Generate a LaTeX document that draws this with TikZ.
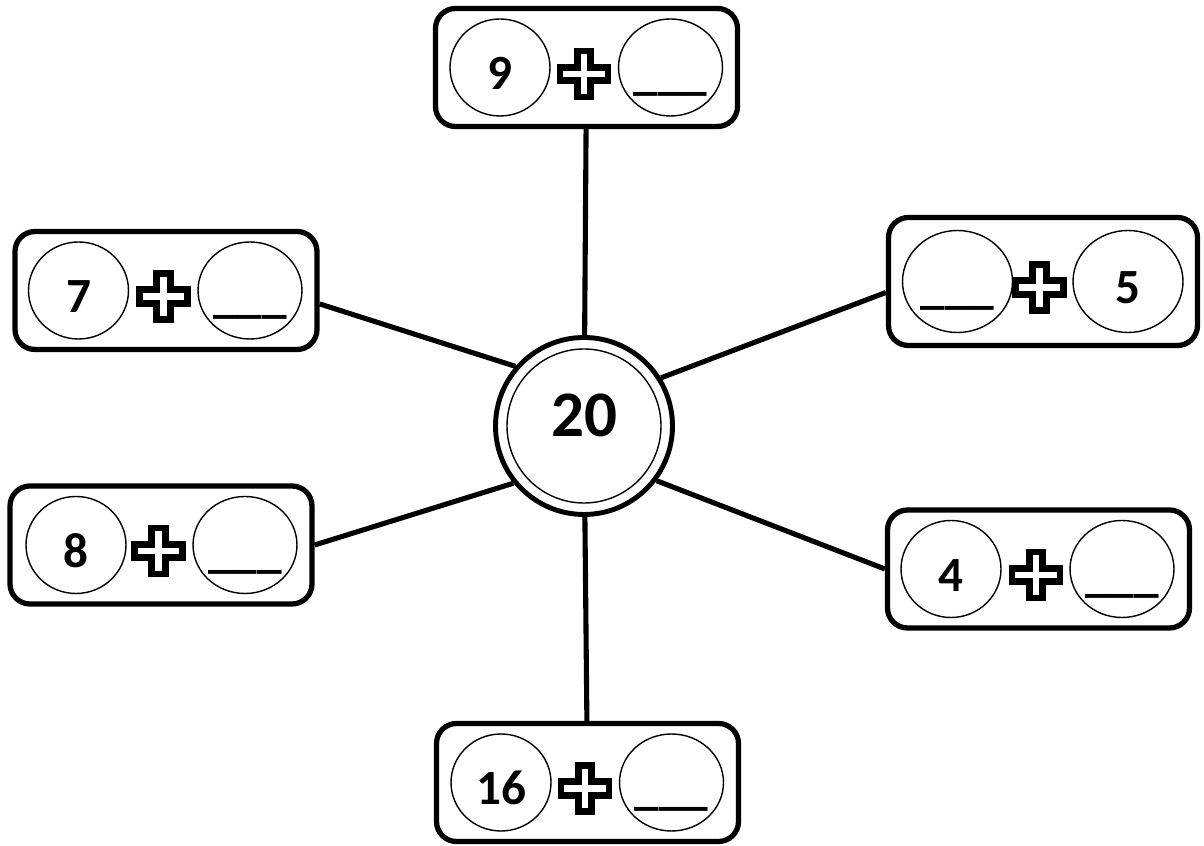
\documentclass[tikz,border=0pt]{standalone}
\usepackage{fontspec}
\setmainfont{Carlito}
\usepackage{tikz}
\usetikzlibrary{shapes.geometric}

\begin{document}
\begin{tikzpicture}[
		sumbox/.style={draw, line width=3pt, rounded corners=0.4cm, minimum width=6.04cm, minimum height=2.36cm},
		numring/.style={ellipse, draw, line width=0.8pt, minimum width=2cm, minimum height=1.94cm, inner sep=0pt, text height=0.9cm, text depth=0cm, font=\fontsize{28}{33}\selectfont\bfseries},
		hubring/.style={circle, draw, line width=2.8pt, minimum size=3.54cm, inner sep=0pt, text height=0.8cm, text depth=0.36cm, font=\fontsize{37}{44}\selectfont\bfseries},
		link/.style={line width=2.9pt},
		addsign/.pic={\draw[line width=3.8pt] (-0.135,0.46) -- (0.135,0.46) -- (0.135,0.135) -- (0.48,0.135) -- (0.48,-0.135) -- (0.135,-0.135) -- (0.135,-0.46) -- (-0.135,-0.46) -- (-0.135,-0.135) -- (-0.48,-0.135) -- (-0.48,0.135) -- (-0.135,0.135) -- cycle;}
	]
		\useasboundingbox (0,0) rectangle (24.08,16.92);
		
		% centre
		\node[hubring] (hub) at (11.68,8.40) {20};
		\draw[line width=0.8pt] (hub.center) circle (1.54);
		
		% top
		\node[sumbox] (top) at (11.73,15.57) {};
		\node[numring, xshift=-1.73cm] (top-a) at (top) {9};
		\node[numring, xshift=1.68cm] (top-b) at (top) {\_\_\_};
		\path (top) ++(-0.05,-0.13) pic {addsign};
		
		% left side
		\node[sumbox] (upleft) at (3.32,11.11) {};
		\node[numring, xshift=-1.75cm] (upleft-a) at (upleft) {7};
		\node[numring, xshift=1.68cm] (upleft-b) at (upleft) {\_\_\_};
		\path (upleft) ++(-0.05,-0.12) pic {addsign};
		
		\node[sumbox] (lowleft) at (3.22,6.02) {};
		\node[numring, xshift=-1.70cm] (lowleft-a) at (lowleft) {8};
		\node[numring, xshift=1.68cm] (lowleft-b) at (lowleft) {\_\_\_};
		\path (lowleft) ++(-0.05,-0.12) pic {addsign};
		
		% right side
		\node[sumbox, minimum width=6.18cm, minimum height=2.56cm] (upright) at (20.86,11.29) {};
		\node[numring, minimum width=2.2cm, minimum height=2.04cm, xshift=-1.71cm] (upright-a) at (upright) {\_\_\_};
		\node[numring, minimum width=2.2cm, minimum height=2.04cm, xshift=1.70cm] (upright-b) at (upright) {5};
		\path (upright) ++(-0.07,-0.12) pic {addsign};
		
		\node[sumbox] (lowright) at (20.77,5.54) {};
		\node[numring, xshift=-1.75cm] (lowright-a) at (lowright) {4};
		\node[numring, xshift=1.67cm] (lowright-b) at (lowright) {\_\_\_};
		\path (lowright) ++(-0.05,-0.12) pic {addsign};
		
		% bottom
		\node[sumbox] (bottom) at (11.75,1.27) {};
		\node[numring, xshift=-1.73cm] (bottom-a) at (bottom) {16};
		\node[numring, xshift=1.68cm] (bottom-b) at (bottom) {\_\_\_};
		\path (bottom) ++(-0.05,-0.12) pic {addsign};
		
		% spokes
		\draw[link] (top) -- (hub);
		\draw[link] (upleft.-5) -- (hub.139);
		\draw[link] (lowleft.east) -- (hub.219);
		\draw[link] (upright.184) -- (hub.32);
		\draw[link] (lowright.west) -- (hub.-37.5);
		\draw[link] (bottom) -- (hub);
	\end{tikzpicture}
\end{document}
